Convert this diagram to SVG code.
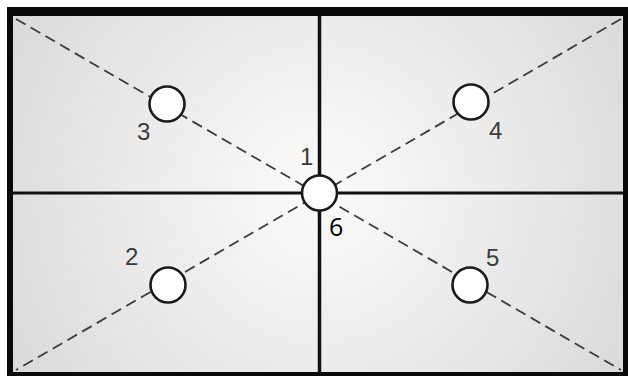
<svg xmlns="http://www.w3.org/2000/svg" width="628" height="376" viewBox="0 0 628 376">
  <defs>
    <radialGradient id="bg" gradientUnits="userSpaceOnUse" cx="319" cy="193" r="360">
      <stop offset="0" stop-color="#fbfbfb"/>
      <stop offset="0.5" stop-color="#ebebeb"/>
      <stop offset="1" stop-color="#d9d9d9"/>
    </radialGradient>
    <style>
      .dash { stroke: #3c3c3c; stroke-width: 1.8; stroke-dasharray: 11 6; fill: none; }
      .grid { stroke: #111; stroke-width: 3; fill: none; }
      .pt { fill: #ffffff; stroke: #1a1a1a; stroke-width: 2.6; }
      .lbl { font-family: "Liberation Sans", Arial, sans-serif; font-size: 24px; fill: #3a3a3a; }
      .lbl6 { font-family: "Open Sans", "Liberation Sans", sans-serif; font-size: 25px; fill: #000; }
    </style>
  </defs>
  <rect x="0" y="0" width="628" height="376" fill="#ffffff"/>
  <g id="frame">
    <rect x="7" y="7" width="621" height="369" fill="#0a0a0a"/>
    <rect x="13" y="16" width="610" height="356" fill="url(#bg)"/>
  </g>
  <g id="partitions">
    <line class="grid" x1="319.5" y1="16" x2="319.5" y2="372" style="stroke-width:3.5"/>
    <line class="grid" x1="13" y1="193" x2="623" y2="193"/>
  </g>
  <g id="connectors">
    <line class="dash" x1="16" y1="19" x2="621" y2="370"/>
    <line class="dash" x1="621" y1="19" x2="16" y2="370"/>
  </g>
  <g id="node-1-6">
    <circle class="pt" cx="319.5" cy="193" r="17.5"/>
    <text class="lbl" x="300" y="165">1</text>
    <text class="lbl6" x="329" y="236">6</text>
  </g>
  <g id="node-3">
    <circle class="pt" cx="167" cy="104" r="17.5"/>
    <text class="lbl" x="137" y="140">3</text>
  </g>
  <g id="node-4">
    <circle class="pt" cx="471" cy="102" r="17.5"/>
    <text class="lbl" x="489" y="139">4</text>
  </g>
  <g id="node-2">
    <circle class="pt" cx="168" cy="285" r="17.5"/>
    <text class="lbl" x="125" y="265">2</text>
  </g>
  <g id="node-5">
    <circle class="pt" cx="470" cy="285" r="17.5"/>
    <text class="lbl" x="486" y="266">5</text>
  </g>
</svg>
